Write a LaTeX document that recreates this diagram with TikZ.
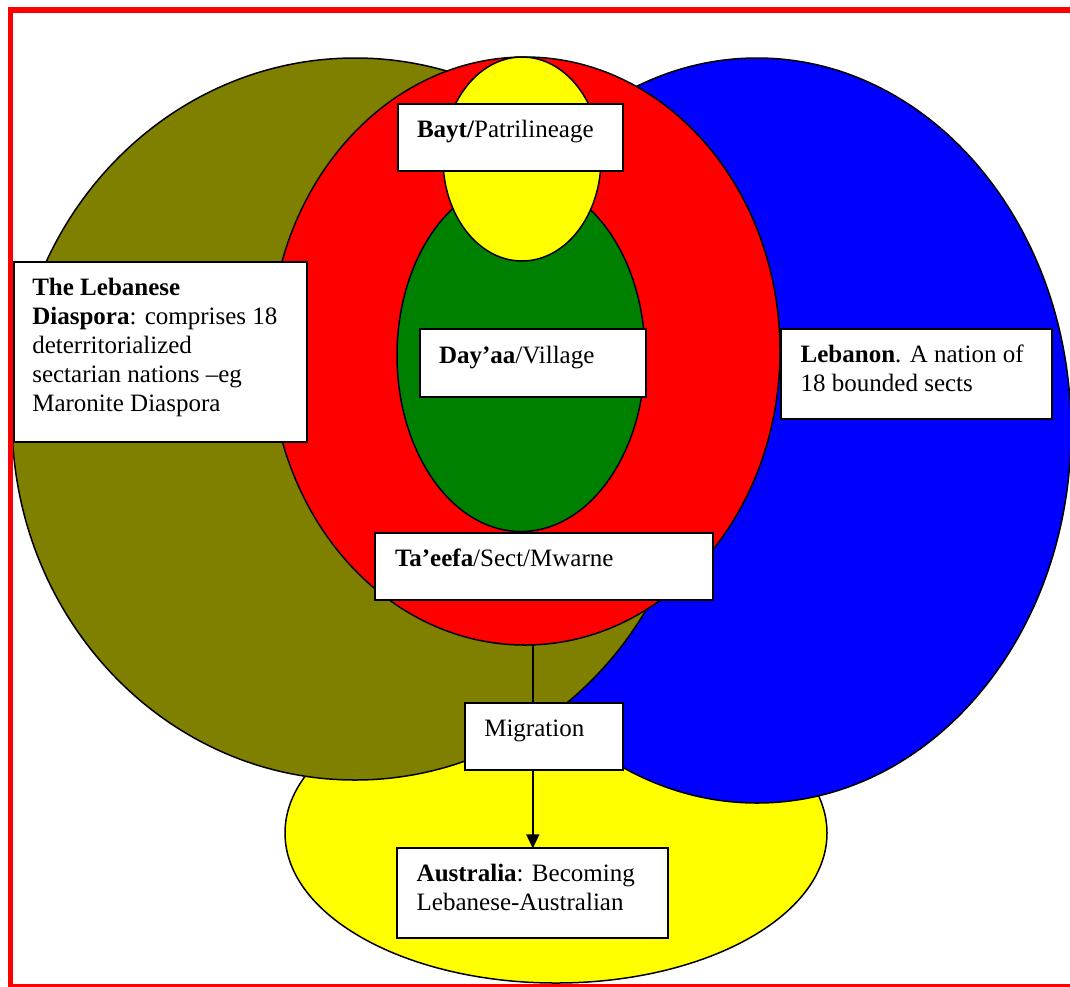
\documentclass[tikz,border=0pt]{standalone}
\usepackage{fontspec}
\setmainfont{Liberation Serif}
\usetikzlibrary{shapes.geometric,arrows.meta}
\definecolor{oliveC}{RGB}{128,128,0}
\definecolor{blueC}{RGB}{0,0,255}
\definecolor{redC}{RGB}{255,0,0}
\definecolor{greenC}{RGB}{0,128,0}
\definecolor{yellowC}{RGB}{255,255,0}
\tikzset{
  oval/.style={ellipse, draw=black, line width=1.5pt, inner sep=0pt, outer sep=0pt},
  box/.style={rectangle, draw=black, fill=white, line width=1.8pt, inner sep=0pt, outer sep=0pt, anchor=north west},
  txt/.style={inner sep=0pt, outer sep=0pt, anchor=north west, align=left, font=\fontsize{25}{29}\selectfont},
  conn/.style={draw=black, line width=1.5pt}
}
\begin{document}
\begin{tikzpicture}[x=1pt,y=-1pt]
\useasboundingbox (0,0) rectangle (1070,986);
% ellipses
\node[oval, fill=yellowC, minimum width=542pt, minimum height=300pt] (ausE) at (556,833) {};
\node[oval, fill=blueC, minimum width=628pt, minimum height=745pt] (lebE) at (757,430.5) {};
\node[oval, fill=oliveC, minimum width=686pt, minimum height=722pt] (diaE) at (355,419) {};
\node[oval, fill=redC, minimum width=510pt, minimum height=588pt] (redE) at (525,351) {};
\node[oval, fill=greenC, minimum width=248pt, minimum height=352pt] (grnE) at (521,355.5) {};
\node[oval, fill=yellowC, minimum width=158pt, minimum height=204pt] (baytE) at (522,159) {};
% boxes
\node[box, minimum width=225pt, minimum height=67pt] (bayt) at (397.7,104) {};
\node[box, minimum width=293pt, minimum height=180pt] (dia) at (14,262) {};
\node[box, minimum width=226pt, minimum height=68pt] (day) at (420,329) {};
\node[box, minimum width=271pt, minimum height=90pt] (leb) at (781,329) {};
\node[box, minimum width=338.6pt, minimum height=67.3pt] (sect) at (374.7,532.7) {};
\node[box, minimum width=158.3pt, minimum height=67.3pt] (mig) at (465,702.7) {};
\node[box, minimum width=271pt, minimum height=90pt] (aus) at (397.3,848.3) {};
% texts
\node[txt] (baytT) at (417,116.7) {\strut\textbf{Bayt/}Patrilineage};
\node[txt] (diaT) at (32.3,275) {\strut\textbf{The Lebanese}\\\textbf{Diaspora}: comprises 18\\deterritorialized\\sectarian nations –eg\\Maronite Diaspora};
\node[txt] (dayT) at (439,342.7) {\strut\textbf{Day’aa}/Village};
\node[txt] (lebT) at (800.7,341.7) {\strut\textbf{Lebanon}. A nation of\\18 bounded sects};
\node[txt] (sectT) at (395,545.7) {\strut\textbf{Ta’eefa}/Sect/Mwarne};
\node[txt] (migT) at (484.3,715.7) {\strut Migration};
\node[txt] (ausT) at (416.7,860.7) {\strut\textbf{Australia}: Becoming\\Lebanese-Australian};
% connectors
\draw[conn] (redE.south -| aus.north) -- (mig.north -| aus.north);
\draw[conn, -{Triangle[width=13pt,length=14pt]}] (mig.south -| aus.north) -- (aus.north);
% frame
\draw[redC, line width=5.5pt] (10.5,10) rectangle (1073,987);
\end{tikzpicture}
\end{document}
